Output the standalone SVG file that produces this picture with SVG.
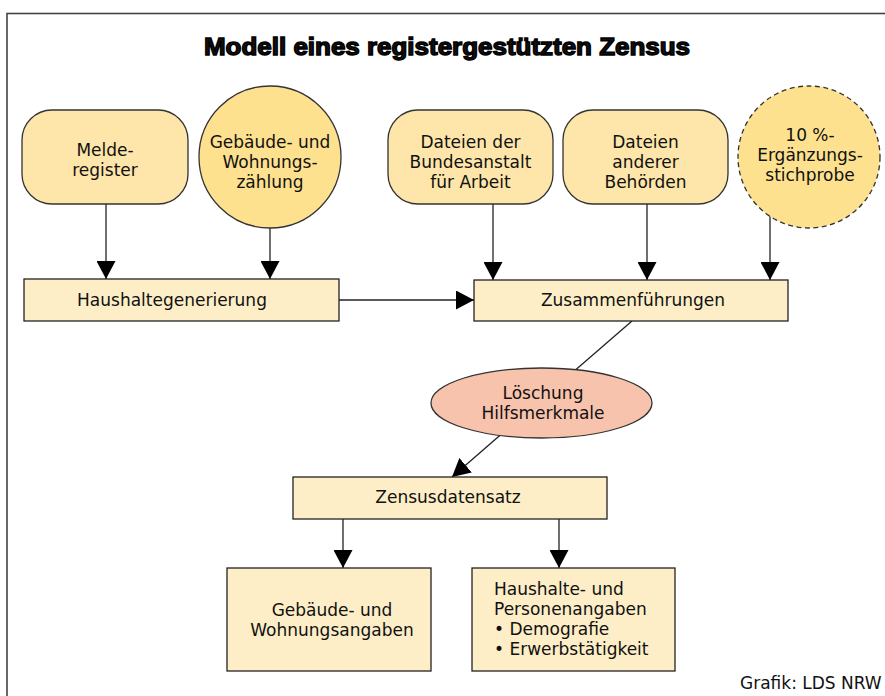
<svg xmlns="http://www.w3.org/2000/svg" width="885" height="696" viewBox="0 0 885 696">
<style>
text{font-family:"DejaVu Sans","Open Sans",sans-serif;font-size:17px;fill:#111;text-anchor:middle}
.rr{fill:#FEE6AA;stroke:#333;stroke-width:1.3}
.circ{fill:#FEE18F;stroke:#333;stroke-width:1.3}
.box{fill:#FDEEC7;stroke:#222;stroke-width:1.3}
.conn{stroke:#222;stroke-width:1.3;fill:none;marker-end:url(#arr)}
</style>
<defs>
<marker id="arr" markerUnits="userSpaceOnUse" viewBox="0 0 18 19" refX="18" refY="9.5" markerWidth="18" markerHeight="19" orient="auto">
<path d="M0,0 L18,9.5 L0,19 Z" fill="#000"/>
</marker>
</defs>
<rect x="0" y="0" width="885" height="696" fill="#fff"/>
<rect x="7" y="13.5" width="900" height="700" fill="none" stroke="#444" stroke-width="1.6"/>
<text x="447" y="55" style="font-family:'Liberation Sans',Arial,sans-serif;font-size:24.5px;font-weight:bold;stroke:#000;stroke-width:1.4" textLength="486" lengthAdjust="spacingAndGlyphs">Modell eines registergestützten Zensus</text>

<g id="connectors">
<line class="conn" x1="106" y1="204" x2="106" y2="279"/>
<line class="conn" x1="270" y1="228" x2="270" y2="279"/>
<line class="conn" x1="493" y1="204" x2="493" y2="280"/>
<line class="conn" x1="647" y1="204" x2="647" y2="280"/>
<line class="conn" x1="770" y1="216" x2="770" y2="280"/>
<line class="conn" x1="339" y1="300" x2="474" y2="300"/>
<line class="conn" x1="632" y1="321" x2="452" y2="477"/>
<line class="conn" x1="343" y1="519" x2="343" y2="568"/>
<line class="conn" x1="559" y1="519" x2="559" y2="568"/>
</g>

<g id="melderegister">
<rect class="rr" x="22" y="110" width="166" height="94" rx="30"/>
<text x="105" y="156">Melde-<tspan x="105" dy="20">register</tspan></text>
</g>
<g id="gwz">
<circle class="circ" cx="270" cy="157" r="71"/>
<text x="270" y="148">Gebäude- und<tspan x="270" dy="20">Wohnungs-</tspan><tspan x="270" dy="20">zählung</tspan></text>
</g>
<g id="ba">
<rect class="rr" x="388" y="110" width="165" height="94" rx="30"/>
<text x="470.5" y="148">Dateien der<tspan x="470.5" dy="20">Bundesanstalt</tspan><tspan x="470.5" dy="20">für Arbeit</tspan></text>
</g>
<g id="andere">
<rect class="rr" x="563" y="110" width="165" height="94" rx="30"/>
<text x="645.5" y="148">Dateien<tspan x="645.5" dy="20">anderer</tspan><tspan x="645.5" dy="20">Behörden</tspan></text>
</g>
<g id="stichprobe">
<circle class="circ" cx="809" cy="157" r="71" stroke-dasharray="5,3.5"/>
<text x="810" y="141">10 %-<tspan x="810" dy="20">Ergänzungs-</tspan><tspan x="810" dy="20">stichprobe</tspan></text>
</g>
<g id="haushaltegenerierung">
<rect class="box" x="24" y="279" width="315" height="42"/>
<text x="172" y="306">Haushaltegenerierung</text>
</g>
<g id="zusammenfuehrungen">
<rect class="box" x="474" y="280" width="314" height="41"/>
<text x="633" y="306">Zusammenführungen</text>
</g>
<g id="loeschung">
<ellipse cx="541.5" cy="403" rx="110.5" ry="35" fill="#F8C3AC" stroke="#333" stroke-width="1.3"/>
<text x="543" y="399">Löschung<tspan x="543" dy="20">Hilfsmerkmale</tspan></text>
</g>
<g id="zensusdatensatz">
<rect class="box" x="293" y="477" width="314" height="42"/>
<text x="448" y="503">Zensusdatensatz</text>
</g>
<g id="gebaeudeangaben">
<rect class="box" x="227" y="568" width="204" height="103"/>
<text x="332" y="616">Gebäude- und<tspan x="332" dy="20">Wohnungsangaben</tspan></text>
</g>
<g id="personenangaben">
<rect class="box" x="472" y="568" width="203" height="103"/>
<text x="494" y="595" style="text-anchor:start">Haushalte- und<tspan x="494" dy="20">Personenangaben</tspan><tspan x="494" dy="20">• Demografie</tspan><tspan x="494" dy="20">• Erwerbstätigkeit</tspan></text>
</g>
<text x="740" y="689" style="text-anchor:start">Grafik: LDS NRW</text>
</svg>
